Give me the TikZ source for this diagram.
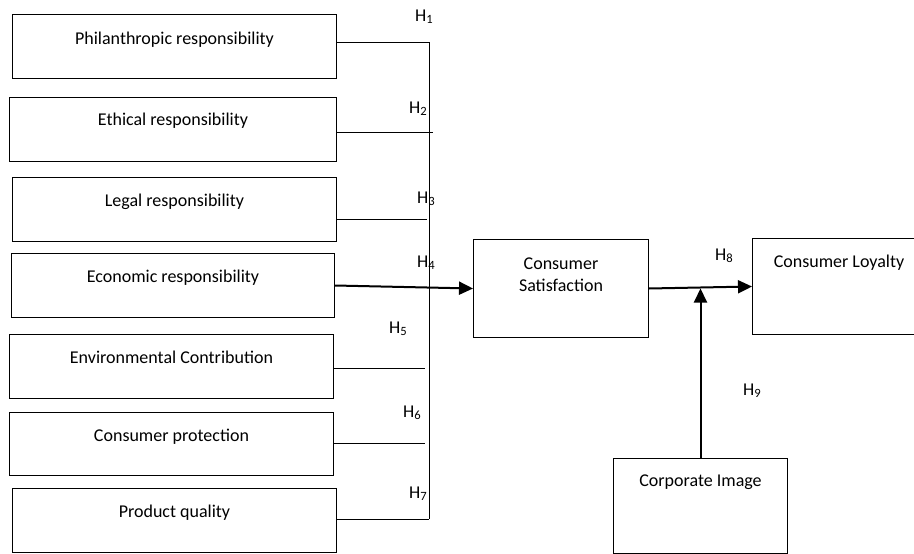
\documentclass[tikz,border=0pt]{standalone}
\usepackage{fontspec}
\setmainfont{Carlito}
\usetikzlibrary{arrows.meta}
\begin{document}
\begin{tikzpicture}[x=1pt,y=-1pt,
  box/.style={draw, line width=1pt, anchor=north west, inner sep=0pt},
  txt/.style={font=\fontsize{18}{22}\selectfont, anchor=base, inner sep=0pt, align=center},
  hlab/.style={font=\fontsize{18}{22}\selectfont, anchor=base west, inner sep=0pt},
  conn/.style={line width=1pt},
  arr/.style={line width=2pt, -{Triangle[length=14pt,width=13pt]}}]
\clip (0,0) rectangle (914,554);
\useasboundingbox (0,0) rectangle (914,554);
% left boxes
\node[box, minimum width=324pt, minimum height=64pt] (p1) at (12,14) {};
\node[box, minimum width=327pt, minimum height=64pt] (p2) at (9,97) {};
\node[box, minimum width=324pt, minimum height=64pt] (p3) at (12,177) {};
\node[box, minimum width=323pt, minimum height=64pt] (p4) at (11,253) {};
\node[box, minimum width=324pt, minimum height=64pt] (p5) at (9,334) {};
\node[box, minimum width=324pt, minimum height=63pt] (p6) at (9,412) {};
\node[box, minimum width=324pt, minimum height=64pt] (p7) at (12,488) {};
\node[txt] (t1) at ([yshift=-30pt]p1.north) {Philanthropic responsibility};
\node[txt] (t2) at ([yshift=-28pt]p2.north) {Ethical responsibility};
\node[txt] (t3) at ([yshift=-29pt]p3.north) {Legal responsibility};
\node[txt] (t4) at ([yshift=-29pt]p4.north) {Economic responsibility};
\node[txt] (t5) at ([yshift=-29pt]p5.north) {Environmental Contribution};
\node[txt] (t6) at ([yshift=-29pt]p6.north) {Consumer protection};
\node[txt] (t7) at ([yshift=-29pt]p7.north) {Product quality};
% right boxes
\node[box, minimum width=175pt, minimum height=98pt] (cs) at (473,239) {};
\node[txt] (tcs) at ([yshift=-52pt]cs.north) {Consumer\\Satisfaction};
\node[box, minimum width=174pt, minimum height=96pt] (cl) at (752,238) {};
\node[txt] (tcl) at (839,267) {Consumer Loyalty};
\node[box, minimum width=174pt, minimum height=95pt] (ci) at (613,458) {};
\node[txt] (tci) at ([yshift=-28pt]ci.north) {Corporate Image};
% bus
\coordinate (vt) at (429,42);
\coordinate (vb) at (429,519);
\draw[conn] (vt) -- (vb);
\coordinate (e2) at (433,132);
\coordinate (e3) at (427,219);
\coordinate (e5) at (425,368);
\coordinate (e6) at (425,443);
\draw[conn] (p1.east |- vt) -- (vt);
\draw[conn] (p2.east |- e2) -- (e2);
\draw[conn] (p3.east |- e3) -- (e3);
\draw[conn] (p5.east |- e5) -- (e5);
\draw[conn] (p6.east |- e6) -- (e6);
\draw[conn] (p7.east |- vb) -- (vb);
% arrows
\draw[arr] (p4.east) -- (cs.west);
\draw[arr] (cs.east) -- (cl.west);
\draw[arr] (ci.north) -- (ci.north |- cs.east);
% labels
\node[hlab] (h1) at (415,21) {H\textsubscript{1}};
\node[hlab] (h2) at (409,113) {H\textsubscript{2}};
\node[hlab] (h3) at (417,203) {H\textsubscript{3}};
\node[hlab] (h4) at (417,267) {H\textsubscript{4}};
\node[hlab] (h5) at (389,333) {H\textsubscript{5}};
\node[hlab] (h6) at (403,417) {H\textsubscript{6}};
\node[hlab] (h7) at (409,498) {H\textsubscript{7}};
\node[hlab] (h8) at (715,260) {H\textsubscript{8}};
\node[hlab] (h9) at (743,395) {H\textsubscript{9}};
\end{tikzpicture}
\end{document}
